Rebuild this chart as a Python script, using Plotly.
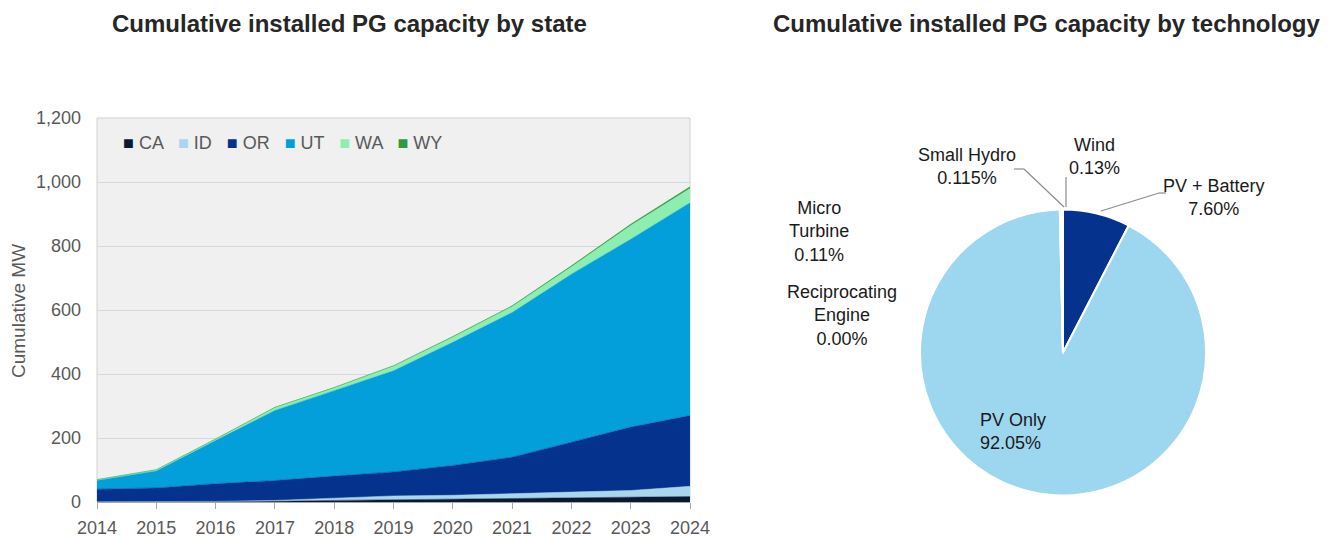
import plotly.graph_objects as go

# ---- Cumulative installed PG capacity by state (MW, stacked) ----
years = [2014, 2015, 2016, 2017, 2018, 2019, 2020, 2021, 2022, 2023, 2024]
states = ["CA", "ID", "OR", "UT", "WA", "WY"]
ca = [0.5, 0.5, 1, 2, 5, 7, 8, 10, 12, 14, 17]
id_ = [0.5, 0.5, 1, 3, 7, 12, 13, 15, 19, 22, 32]
or_ = [39, 43, 55, 62, 69, 75, 93, 115, 156, 198, 221]
ut = [27, 53, 135, 219, 267, 316, 385, 452, 525, 587, 665]
wa = [3, 4, 4, 9, 9, 15, 17, 19, 23, 43, 45]
wy = [0, 0, 1, 1, 1, 1, 1, 2, 3, 4, 5]
state_values = [ca, id_, or_, ut, wa, wy]
state_colors = ["#0b1a33", "#a9d6ec", "#04328c", "#029fda", "#8eeeb0", "#2f9a3e"]
y_ticks = [0, 200, 400, 600, 800, 1000, 1200]

# ---- Cumulative installed PG capacity by technology (% share) ----
techs = ["PV + Battery", "PV Only", "Reciprocating Engine", "Micro Turbine",
         "Small Hydro", "Wind"]
tech_share = [7.60, 92.05, 0.00, 0.11, 0.115, 0.13]
tech_labels = ["7.60%", "92.05%", "0.00%", "0.11%", "0.115%", "0.13%"]
tech_colors = ["#04328c", "#9dd6ef", "#bfbfbf", "#d9d9d9", "#c8c8c8", "#e6e6e6"]

W, H = 1330, 537


def px(x):
    return x / W


def py(y):
    return 1 - y / H


FONT = "Liberation Sans, Arial, sans-serif"
fig = go.Figure()

for name, vals, col in zip(states, state_values, state_colors):
    fig.add_trace(go.Scatter(
        x=years, y=vals, name=name, mode="lines", stackgroup="st",
        line=dict(width=0.5, color=col), fillcolor=col, showlegend=False,
        xaxis="x", yaxis="y",
    ))

fig.add_trace(go.Pie(
    labels=techs, values=tech_share, sort=False, direction="clockwise",
    rotation=0, marker=dict(colors=tech_colors, line=dict(color="white", width=2)),
    textinfo="none", hoverinfo="label+percent", showlegend=False,
    domain=dict(x=[px(920), px(1206)], y=[py(497), py(208)]),
))

fig.update_layout(
    width=W, height=H, margin=dict(l=0, r=0, t=0, b=0),
    paper_bgcolor="white", plot_bgcolor="#f0f0f0",
    font=dict(family=FONT, color="#595959", size=18),
    xaxis=dict(
        domain=[px(97), px(690)], range=[years[0], years[-1]], automargin=False,
        tickmode="array", tickvals=years, ticktext=[str(y) for y in years],
        showgrid=False, zeroline=False, showline=True, linecolor="#a6a6a6",
        linewidth=1, ticks="outside", ticklen=6, tickcolor="#a6a6a6",
        ticklabelstandoff=3, tickfont=dict(size=18, color="#595959"),
    ),
    yaxis=dict(
        domain=[py(502), py(118)], range=[0, 1200], automargin=False,
        tickmode="array", tickvals=y_ticks,
        ticktext=[f"{v:,}" for v in y_ticks],
        showgrid=True, gridcolor="#d8d8d8", gridwidth=1, zeroline=False,
        showline=False, ticks="", ticklabelstandoff=15,
        tickfont=dict(size=18, color="#595959"),
    ),
)

# plot-area frame
fig.add_shape(type="rect", xref="x domain", yref="y domain", x0=0, x1=1, y0=0, y1=1,
              line=dict(color="#d0d0d0", width=1), layer="below")


def note(text, x, y, size=18, color="#595959", **kw):
    d = dict(text=text, x=px(x), y=py(y), xref="paper", yref="paper",
             xanchor="center", yanchor="middle", showarrow=False,
             font=dict(size=size, color=color, family=FONT))
    d.update(kw)
    return d


annotations = [
    note("<b>Cumulative installed PG capacity by state</b>", 349, 23, 24, "#262626"),
    note("<b>Cumulative installed PG capacity by technology</b>", 1046, 23, 24, "#262626"),
    note("Cumulative MW", 18, 311, 19, "#595959", textangle=-90),
]

# in-plot legend for the states
legend_parts = [f"<span style='color:{c}'>■</span> {s}" for s, c in zip(states, state_colors)]
annotations.append(note("   ".join(legend_parts), 121, 143, 18, "#595959", xanchor="left"))

# pie labels
tc = "#1a1a1a"
label_pos = {
    "PV + Battery": (1214, 198, "PV + Battery"),
    "PV Only": (1012, 431, "PV Only"),
    "Reciprocating Engine": (842, 315, "Reciprocating<br>Engine"),
    "Micro Turbine": (819, 231, "Micro<br>Turbine"),
    "Small Hydro": (967, 166, "Small Hydro"),
    "Wind": (1094, 156, "Wind"),
}
for t, lab in zip(techs, tech_labels):
    x, y, txt = label_pos[t]
    if t == "PV Only":
        annotations.append(note(f"{txt}<br>{lab}", 978, y, 18, tc, xanchor="left", align="left"))
    else:
        annotations.append(note(f"{txt}<br>{lab}", x, y, 18, tc))
fig.update_layout(annotations=annotations)

# leader lines from labels to slices
leader = "#8c8c8c"
for pts in [
    [(1014, 169), (1024, 169), (1064, 207)],   # Small Hydro
    [(1066, 177), (1066, 207)],                # Wind
    [(1166, 193), (1159, 193), (1101, 211)],   # PV + Battery
]:
    for (x0, y0), (x1, y1) in zip(pts[:-1], pts[1:]):
        fig.add_shape(type="line", xref="paper", yref="paper",
                      x0=px(x0), y0=py(y0), x1=px(x1), y1=py(y1),
                      line=dict(color=leader, width=1.2))

fig.write_html("out.html")
